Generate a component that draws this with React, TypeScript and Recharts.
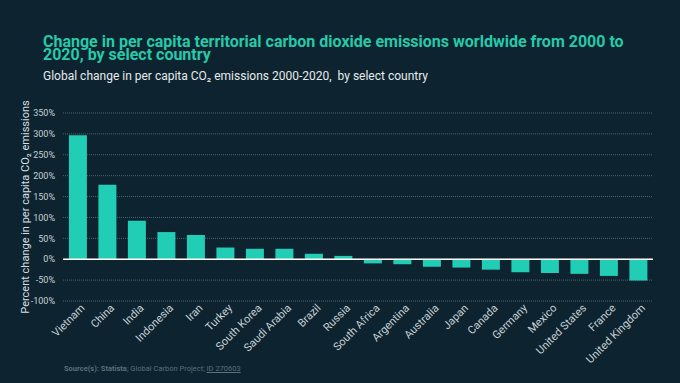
import React from "react";
import { BarChart, Bar, XAxis, YAxis, CartesianGrid, ReferenceLine } from "recharts";

const countries = [
  "Vietnam", "China", "India", "Indonesia", "Iran", "Turkey", "South Korea", "Saudi Arabia",
  "Brazil", "Russia", "South Africa", "Argentina", "Australia", "Japan", "Canada", "Germany",
  "Mexico", "United States", "France", "United Kingdom",
];
const changePct = [297, 178, 92, 65, 58, 28, 25, 25, 13, 8, -10, -12, -18, -20, -25, -31, -33, -35, -40, -51];
const yTicks = [-100, -50, 0, 50, 100, 150, 200, 250, 300, 350];

const data = countries.map((c, i) => ({ country: c, value: changePct[i] }));

const BG = "#0d2430";
const BAR = "#21cdb5";
const FONT = "Roboto, 'Liberation Sans', sans-serif";

const XTick = (props: any) => {
  const { x, y, payload } = props;
  return (
    <g transform={`translate(${x + 2},${y - 6})`}>
      <text textAnchor="end" transform="rotate(-45)" fill="#c8d0d4" fontSize={11} fontFamily={FONT} dy={8}>
        {payload.value}
      </text>
    </g>
  );
};

export default function App() {
  return (
    <div style={{ position: "absolute", left: 0, top: 0, width: 680, height: 383, background: BG, overflow: "hidden" }}>
      <div style={{ position: "absolute", left: 43, top: 35, width: 590, color: "#27c9a9", fontFamily: FONT, fontWeight: 700, fontSize: 16, lineHeight: "13px" }}>
        Change in per capita territorial carbon dioxide emissions worldwide from 2000 to 2020, by select country
      </div>
      <div style={{ position: "absolute", left: 43, top: 69, color: "#e6eaec", fontFamily: FONT, fontSize: 12 }}>
        Global change in per capita CO₂ emissions 2000-2020,&nbsp; by select country
      </div>
      <div style={{ position: "absolute", left: 64, top: 364, color: "#5d6f77", fontFamily: FONT, fontSize: 7.5 }}>
        <b>Source(s): Statista</b>; Global Carbon Project; <u>ID 270603</u>
      </div>
      <div style={{ position: "absolute", left: 0, top: 0 }}>
        <BarChart width={680} height={383} data={data} margin={{ top: 113, right: 27, bottom: 0, left: 0 }} barCategoryGap="20%">
          <CartesianGrid horizontal vertical={false} stroke="#4a6470" strokeDasharray="1 1" />
          <XAxis dataKey="country" axisLine={false} tickLine={false} interval={0} tick={<XTick />} height={82} />
          <YAxis
            domain={[-100, 350]}
            ticks={yTicks}
            interval={0}
            axisLine={false}
            tickLine={false}
            width={63}
            tickFormatter={(v: number) => `${v}%`}
            tick={{ fill: "#c8d0d4", fontSize: 9, fontFamily: FONT }}
            label={{ value: "Percent change in per capita CO₂ emissions", angle: -90, position: "insideLeft", dx: 20, dy: 0, style: { textAnchor: "middle", fill: "#d8dee1", fontSize: 11, fontFamily: FONT } }}
          />
          <ReferenceLine y={0} stroke="#ffffff" strokeWidth={1.5} />
          <Bar dataKey="value" fill={BAR} isAnimationActive={false} />
        </BarChart>
      </div>
    </div>
  );
}
